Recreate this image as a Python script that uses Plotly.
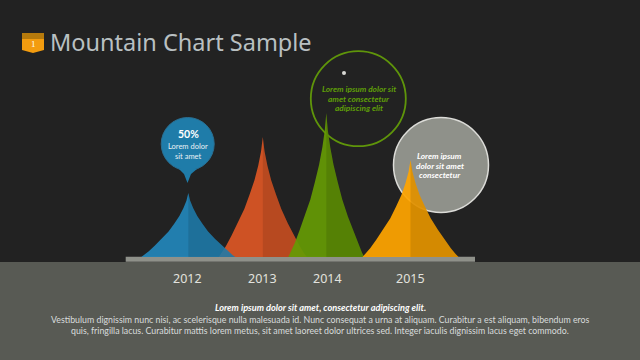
import plotly.graph_objects as go

# --- data ---
years = ["2012", "2013", "2014", "2015"]
peak_heights = [64, 120, 144, 97]
# shared mountain silhouette: distance from the peak (share of half width) and height (share of peak)
profile_offset = [0, 0.04, 0.105, 0.19, 0.30, 0.42, 0.57, 0.71, 0.84, 0.94, 1]
profile_height = [1, 0.88, 0.76, 0.64, 0.52, 0.4, 0.28, 0.18, 0.09, 0.03, 0]

title = "Mountain Chart Sample"
badge_number = "1"
bubble_2012 = ["50%", "Lorem dolor", "sit amet"]
bubble_2014 = ["Lorem ipsum dolor sit", "amet consectetur", "adipiscing elit"]
bubble_2015 = ["Lorem ipsum", "dolor sit amet", "consectetur"]
caption_head = "Lorem ipsum dolor sit amet, consectetur adipiscing elit."
caption_lines = [
    "Vestibulum dignissim nunc nisi, ac scelerisque nulla malesuada id. Nunc consequat a urna at aliquam. Curabitur a est aliquam, bibendum eros",
    "quis, fringilla lacus. Curabitur mattis lorem metus, sit amet laoreet dolor ultrices sed. Integer iaculis dignissim lacus eget commodo.",
]

# --- layout: x is the pixel column, y is height above the baseline ---
BASE = 257
def Y(py):
    return BASE - py

centers = {"2012": 188.3, "2013": 262.8, "2014": 326.3, "2015": 410.5}
half_w = {"2012": 47, "2013": 44, "2014": 38, "2015": 48}
fills = {"2012": "rgba(34,140,195,0.87)", "2013": "rgba(206,82,36,1)",
         "2014": "rgba(101,154,4,0.93)", "2015": "rgba(255,165,0,0.93)"}
shade = "rgba(0,0,0,0.11)"
peaks = dict(zip(years, peak_heights))

fig = go.Figure()

def mountain(year):
    c, w, p = centers[year], half_w[year], peaks[year]
    ys_half = [p * h for h in profile_height]
    xs_full = [c - w * o for o in reversed(profile_offset)] + [c + w * o for o in profile_offset[1:]]
    ys_full = list(reversed(ys_half)) + ys_half[1:]
    fig.add_trace(go.Scatter(x=xs_full, y=ys_full, mode="lines", fill="toself", fillcolor=fills[year],
                             line=dict(width=0), hoverinfo="skip"))
    fig.add_trace(go.Scatter(x=[c + w * o for o in profile_offset] + [c], y=ys_half + [0],
                             mode="lines", fill="toself", fillcolor=shade,
                             line=dict(width=0), hoverinfo="skip"))

def circle(cx, cy, r, fill, line, lw):
    fig.add_shape(type="circle", x0=cx - r, x1=cx + r, y0=Y(cy - r), y1=Y(cy + r),
                  fillcolor=fill, line=dict(color=line, width=lw), layer="between")

def text(x, py, s, size, color, font="Lato", anchor="center"):
    fig.add_annotation(x=x, y=Y(py), text=s, showarrow=False, xanchor=anchor, yanchor="middle",
                       font=dict(family=font, size=size, color=color), align=anchor)

# ground and bar
fig.add_shape(type="rect", x0=0, x1=640, y0=Y(360), y1=Y(262), fillcolor="#585a54",
              line_width=0, layer="below")
fig.add_shape(type="rect", x0=125.7, x1=475, y0=Y(261.8), y1=Y(256.7), fillcolor="#8f918a",
              line_width=0, layer="below")

# badge
fig.add_shape(type="path", path=f"M 22 {Y(39)} L 44 {Y(39)} L 44 {Y(50)} L 33 {Y(53)} L 22 {Y(50)} Z",
              fillcolor="#f39c0f", line_width=0, layer="below")
fig.add_shape(type="rect", x0=22, x1=44, y0=Y(39), y1=Y(33), fillcolor="#b67a0c",
              line_width=0, layer="below")

# circles
circle(358.3, 98.7, 47.5, "rgba(0,0,0,0)", "#5f950a", 1.8)
circle(344, 73, 2, "#d8d8d4", "#d8d8d4", 0)
circle(441, 165, 47.5, "#8f918a", "#dcdcd8", 1.5)
circle(187.7, 144, 26.5, "#1f7ca9", "#2a6f92", 1)
fig.add_shape(type="path",
              path=f"M 179 {Y(169)} L 197 {Y(169)} L 191 {Y(174)} L 187.5 {Y(183)} L 184 {Y(174)} Z",
              fillcolor="#1f7ca9", line_width=0, layer="between")

for y in ["2013", "2012", "2014", "2015"]:
    mountain(y)

# texts
text(48, 42, title, 23.5, "#b9c0c2", "Noto Sans", "left")
text(33, 44, badge_number, 9, "#ffffff", "Liberation Serif")
text(188, 134, "<b>" + bubble_2012[0] + "</b>", 10.5, "#ffffff")
text(188, 146.5, bubble_2012[1], 7.5, "#e8f0f4")
text(188, 156, bubble_2012[2], 7.5, "#e8f0f4")
for i, s in enumerate(bubble_2014):
    text(358.5, 89 + i * 9.7, "<b><i>" + s + "</i></b>", 8.3, "#5f9e08")
for i, s in enumerate(bubble_2015):
    text(439.5, 156 + i * 9.7, "<b><i>" + s + "</i></b>", 8.3, "#ffffff")
for y, px in zip(years, [187, 262.3, 327.5, 410.5]):
    text(px, 278, y, 12.5, "#e2e2de", "Noto Sans")
text(320, 307.5, "<b><i>" + caption_head + "</i></b>", 9.2, "#ffffff")
text(320, 319, caption_lines[0], 8.8, "#d8dcdc")
text(320, 330.5, caption_lines[1], 8.8, "#d8dcdc")

fig.update_layout(
    width=640, height=360, margin=dict(l=0, r=0, t=0, b=0), showlegend=False,
    paper_bgcolor="#222222", plot_bgcolor="#222222",
    xaxis=dict(range=[0, 640], visible=False, fixedrange=True),
    yaxis=dict(range=[Y(360), Y(0)], visible=False, fixedrange=True),
)
fig.write_html("out.html", config=dict(displayModeBar=False),
               post_script="document.body.style.margin='0';document.documentElement.style.overflow='hidden';")
